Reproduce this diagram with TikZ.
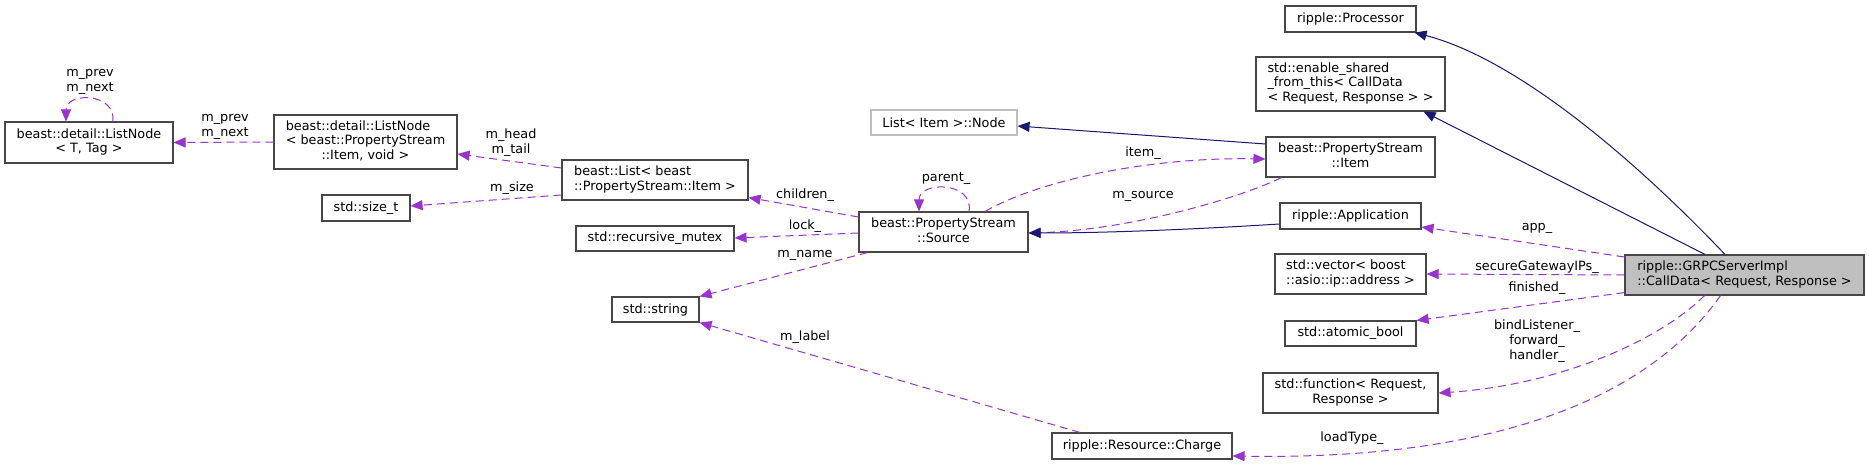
\documentclass[tikz,border=0pt]{standalone}
\usepackage{fontspec}
\setmainfont{DejaVu Sans}
\usetikzlibrary{arrows.meta,calc}
\definecolor{midblue}{HTML}{191970}
\definecolor{orchid}{HTML}{9A32CD}
\definecolor{nodegrey}{HTML}{BFBFBF}
\newcommand{\lastc}[1]{\multicolumn{1}{@{}c@{}}{#1}}
\begin{document}
\begin{tikzpicture}[x=1bp,y=-1bp, font=\fontsize{12.8bp}{14.7bp}\selectfont,
 box/.style={draw=black!72, line width=1.1bp, fill=white, inner sep=0, text=black},
 inh/.style={draw=midblue, line width=1bp, -{Triangle[length=12bp,width=10bp]}},
 mem/.style={draw=orchid, line width=1bp, dash pattern=on 8bp off 5bp, -{Triangle[length=12bp,width=10bp]}},
 lbl/.style={inner sep=0, align=center, text=black}]

\useasboundingbox[fill=white] (0,0) rectangle (1869,465);

% nodes
\node[box, minimum width=168bp, minimum height=41bp] (LNT) at (89,142.5)
  {\begin{tabular}{@{}l@{}}beast::detail::ListNode\\\lastc{< T, Tag >}\end{tabular}};
\node[box, minimum width=183bp, minimum height=54bp] (LNI) at (365.5,142)
  {\begin{tabular}{@{}l@{}}beast::detail::ListNode\\< beast::PropertyStream\\\lastc{::Item, void >}\end{tabular}};
\node[box, minimum width=88bp, minimum height=26bp] (sizet) at (366,208) {std::size\_t};
\node[box, minimum width=186bp, minimum height=40bp] (List) at (655,180)
  {\begin{tabular}{@{}l@{}}beast::List< beast\\\lastc{::PropertyStream::Item >}\end{tabular}};
\node[box, minimum width=158bp, minimum height=25bp] (mutex) at (655,238.5) {std::recursive\_mutex};
\node[box, minimum width=87bp, minimum height=25bp] (string) at (655.5,309.5) {std::string};
\node[box, minimum width=169bp, minimum height=40bp] (Source) at (943.5,232)
  {\begin{tabular}{@{}l@{}}beast::PropertyStream\\\lastc{::Source}\end{tabular}};
\node[box, draw=nodegrey, minimum width=146bp, minimum height=25bp] (LINode) at (944,122.5) {List< Item >::Node};
\node[box, minimum width=169bp, minimum height=40bp] (Item) at (1350.5,157)
  {\begin{tabular}{@{}l@{}}beast::PropertyStream\\\lastc{::Item}\end{tabular}};
\node[box, minimum width=131bp, minimum height=26bp] (Processor) at (1350.5,19) {ripple::Processor};
\node[box, minimum width=189bp, minimum height=54bp] (enable) at (1350.5,84)
  {\begin{tabular}{@{}l@{}}std::enable\_shared\\\_from\_this< CallData\\\lastc{< Request, Response > >}\end{tabular}};
\node[box, minimum width=141bp, minimum height=26bp] (App) at (1350.5,216) {ripple::Application};
\node[box, minimum width=151bp, minimum height=40bp] (vector) at (1350.5,274)
  {\begin{tabular}{@{}l@{}}std::vector< boost\\\lastc{::asio::ip::address >}\end{tabular}};
\node[box, minimum width=131bp, minimum height=25bp] (atomic) at (1350.5,333.5) {std::atomic\_bool};
\node[box, minimum width=175bp, minimum height=40bp] (function) at (1350.5,393)
  {\begin{tabular}{@{}l@{}}std::function< Request,\\\lastc{Response >}\end{tabular}};
\node[box, minimum width=180bp, minimum height=26bp] (Charge) at (1142,446) {ripple::Resource::Charge};
\node[box, fill=nodegrey, minimum width=239bp, minimum height=40bp] (CallData) at (1744.5,275)
  {\begin{tabular}{@{}l@{}}ripple::GRPCServerImpl\\\lastc{::CallData< Request, Response >}\end{tabular}};

% edges
\draw[mem] ($(LNT.north)+(24,0)$) .. controls (116,92) and (66,92) .. ($(LNT.north)+(-23,0)$);
\draw[mem] (LNI.west) -- (LNT.east);
\draw[mem] ($(List.west)+(0,-12)$) -- ($(LNI.east)+(0,12)$);
\draw[mem] ($(List.west)+(0,15)$) -- ($(sizet.east)+(0,-2)$);
\draw[mem] ($(Source.west)+(0,-15)$) -- ($(List.south east)+(0,-3)$);
\draw[mem] ($(Source.west)+(0,1)$) -- ($(mutex.east)+(0,-0.5)$);
\draw[mem] ($(Source.south west)+(9,0)$) -- (string.north east);
\draw[mem] ($(Source.north)+(25.5,0)$) .. controls (974,181) and (919,181) .. ($(Source.north)+(-24.5,0)$);
\draw[mem] ($(Source.north)+(41.5,0)$) .. controls (1040,180) and (1150,157) .. ($(Item.west)+(0,2)$);
\draw[mem] ($(Item.south west)+(16,0)$) .. controls (1240,198) and (1130,230) .. ($(Source.east)+(0,1)$);
\draw[inh] ($(Item.west)+(0,-13)$) -- ($(LINode.east)+(0,3.5)$);
\draw[inh] ($(App.west)+(0,8)$) .. controls (1200,229) and (1110,233) .. ($(Source.east)+(0,1)$);
\draw[inh] ($(CallData.north)+(-19.5,0)$) .. controls (1640,165) and (1520,60) .. ($(Processor.south east)+(-2,0)$);
\draw[inh] ($(CallData.north)+(-39.5,0)$) -- ($(enable.south east)+(-22,0)$);
\draw[mem] ($(CallData.west)+(0,-18)$) -- ($(App.east)+(0,11)$);
\draw[mem] (CallData.west) -- (vector.east);
\draw[mem] ($(CallData.south west)+(0,-3)$) -- (atomic.north east);
\draw[mem] ($(CallData.south)+(-40,0)$) .. controls (1660,340) and (1560,385) .. (function.east);
\draw[mem] ($(CallData.south)+(-24,0)$) .. controls (1640,410) and (1470,460) .. ($(Charge.east)+(0,10)$);
\draw[mem] ($(Charge.north)+(-62,0)$) -- (string.south east);

% labels
\node[lbl] (t1) at (90,82) {m\_prev\\m\_next};
\node[lbl] (t2) at (225,127) {m\_prev\\m\_next};
\node[lbl] (t3) at (511,143) {m\_head\\m\_tail};
\node[lbl] (t4) at (512,188) {m\_size};
\node[lbl] (t5) at (805,195) {children\_};
\node[lbl] (t6) at (805,226) {lock\_};
\node[lbl] (t7) at (805,255) {m\_name};
\node[lbl] (t8) at (946,179) {parent\_};
\node[lbl] (t9) at (1143,153) {item\_};
\node[lbl] (t10) at (1143,196) {m\_source};
\node[lbl] (t11) at (1537,228) {app\_};
\node[lbl] (t12) at (1537,267) {secureGatewayIPs\_};
\node[lbl] (t13) at (1537,288) {finished\_};
\node[lbl] (t14) at (1537,341) {bindListener\_\\forward\_\\handler\_};
\node[lbl] (t15) at (1352,438) {loadType\_};
\node[lbl] (t16) at (805,337) {m\_label};
\end{tikzpicture}
\end{document}
